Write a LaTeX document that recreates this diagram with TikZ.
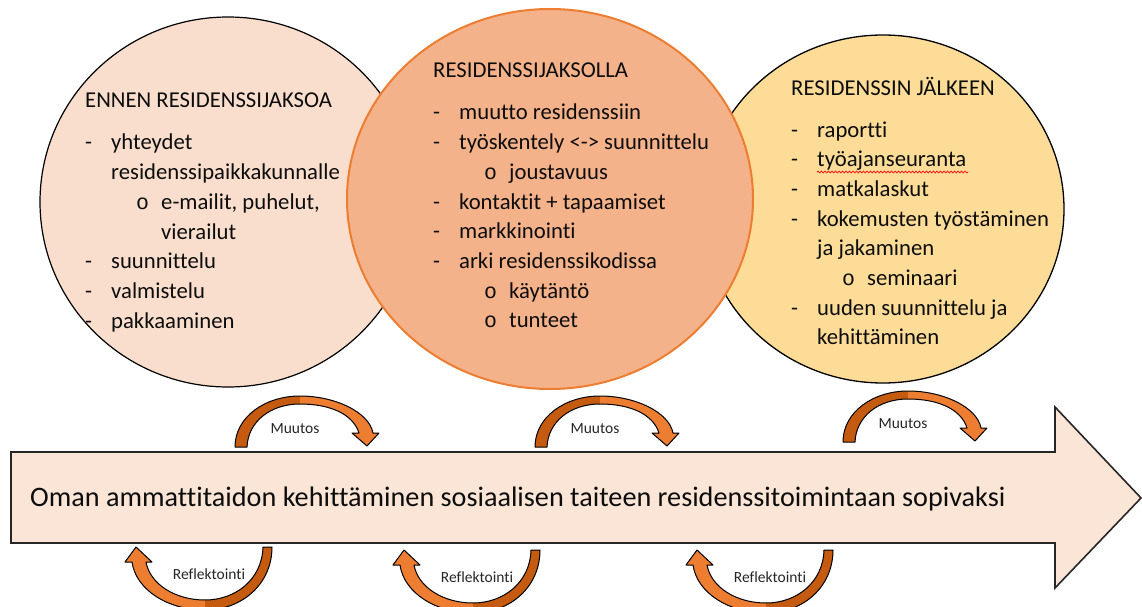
\documentclass[tikz,border=0pt]{standalone}
\usepackage{fontspec}
\setmainfont{Carlito}[Ligatures={TeX,NoCommon}]
\newfontfamily\bulletfont{Liberation Mono}
\usetikzlibrary{shapes.geometric,decorations.pathmorphing}
\definecolor{cOne}{RGB}{250,222,205}
\definecolor{cTwo}{RGB}{244,178,138}
\definecolor{cThree}{RGB}{252,220,150}
\definecolor{orBorder}{RGB}{237,125,49}
\definecolor{arrDark}{RGB}{197,90,17}
\definecolor{arrLight}{RGB}{237,125,49}
\definecolor{bigFill}{RGB}{251,229,214}
\definecolor{txt}{RGB}{13,13,13}
\newcommand\Ldash{\makebox[26pt][l]{-}}
\newcommand\Lcont{\hspace*{26pt}}
\newcommand\Lsub{\hspace*{51pt}\makebox[25pt][l]{\bulletfont\fontsize{21.5}{21.5}\selectfont o}}
\newcommand\Lsubcont{\hspace*{76pt}}
\newcommand\ctext[1]{\vtop{\hsize=340pt\parindent=0pt\parskip=0pt\baselineskip=29.7pt\lineskiplimit=-20pt\raggedright #1}}
\tikzset{
  phase/.style={ellipse, inner sep=0pt},
  phasetext/.style={anchor=base west, inner sep=0pt, text=txt, font=\fontsize{22.7}{29.7}\selectfont},
  bigarrow/.style={fill=bigFill, draw=black!85, line width=1.6pt, line join=miter},
  outl/.style={draw=black, line width=1pt, line join=round},
  lbl/.style={inner sep=0pt, text=black!85, font=\fontsize{15.5}{18}\selectfont},
  muutos/.pic={
    \fill[arrDark] (0,0) .. controls (0,-30) and (30,-51) .. (65,-51) -- (65,-43) .. controls (35,-43) and (13,-25) .. (12,0) -- cycle;
    \fill[arrLight] (65,-51) .. controls (100,-51) and (134,-35) .. (138,-14) -- (144,-14) -- (132,-1) -- (117,-14) -- (124,-14) .. controls (118,-33) and (95,-43) .. (65,-43) -- cycle;
    \draw[outl] (0,0) .. controls (0,-30) and (30,-51) .. (65,-51) .. controls (100,-51) and (134,-35) .. (138,-14) -- (144,-14) -- (132,-1) -- (117,-14) -- (124,-14) .. controls (118,-33) and (95,-43) .. (65,-43) .. controls (35,-43) and (13,-25) .. (12,0) -- cycle;
    \node[lbl] (-lbl) at (60,-18) {Muutos};
  },
  reflekt/.pic={
    \fill[arrDark] (0,0) .. controls (0,37) and (-30,63) .. (-67,63) -- (-67,53) .. controls (-37,53) and (-10,33) .. (-9,0) -- cycle;
    \fill[arrLight] (-67,63) .. controls (-104,63) and (-136,43) .. (-140,15) -- (-147,15) -- (-136,0) -- (-120,15) -- (-126,15) .. controls (-122,37) and (-97,53) .. (-67,53) -- cycle;
    \draw[outl] (0,0) .. controls (0,37) and (-30,63) .. (-67,63) .. controls (-104,63) and (-136,43) .. (-140,15) -- (-147,15) -- (-136,0) -- (-120,15) -- (-126,15) .. controls (-122,37) and (-97,53) .. (-67,53) .. controls (-37,53) and (-10,33) .. (-9,0) -- cycle;
    \node[lbl] (-lbl) at (-63,27) {Reflektointi};
  }
}
\begin{document}
\begin{tikzpicture}[x=1pt,y=-1pt]
\clip (0,0) rectangle (1142,607);
\fill[white] (0,0) rectangle (1142,607);
% circles
\node[phase, fill=cOne, draw=black, line width=1.2pt, minimum width=376pt, minimum height=370pt] (c1) at (228,202) {};
\node[phase, fill=cThree, draw=black, line width=1.3pt, minimum width=362pt, minimum height=348pt] (c3) at (883,209) {};
\node[phase, fill=cTwo, draw=orBorder, line width=2pt, minimum width=406pt, minimum height=380pt] (c2) at (550,199) {};
% circle texts
\node[phasetext] (t1) at (85,108) {\ctext{ENNEN RESIDENSSIJAKSOA\\[12.3pt]
\Ldash yhteydet\\
\Lcont residenssipaikkakunnalle\\
\Lsub e-mailit, puhelut,\\
\Lsubcont vierailut\\
\Ldash suunnittelu\\
\Ldash valmistelu\\
\Ldash pakkaaminen}};
\node[phasetext] (t2) at (433,78) {\ctext{RESIDENSSIJAKSOLLA\\[12.3pt]
\Ldash muutto residenssiin\\
\Ldash työskentely <-> suunnittelu\\
\Lsub joustavuus\\
\Ldash kontaktit + tapaamiset\\
\Ldash markkinointi\\
\Ldash arki residenssikodissa\\
\Lsub käytäntö\\
\Lsub tunteet}};
\node[phasetext] (t3) at (791,96) {\ctext{RESIDENSSIN JÄLKEEN\\[11.3pt]
\Ldash raportti\\
\Ldash työajanseuranta\\
\Ldash matkalaskut\\
\Ldash kokemusten työstäminen\\
\Lcont ja jakaminen\\
\Lsub seminaari\\
\Ldash uuden suunnittelu ja\\
\Lcont kehittäminen}};
\draw[red, line width=0.7pt, decorate, decoration={snake, amplitude=0.9pt, segment length=3.5pt}] (817,172) -- (968,172);
% big arrow
\draw[bigarrow] (11,452) -- (1055,452) -- (1055,407) -- (1141,498) -- (1055,588) -- (1055,543) -- (11,543) -- cycle;
\node[anchor=base west, inner sep=0pt, text=txt, font=\fontsize{28.2}{32}\selectfont] (main) at (30,506) {Oman ammattitaidon kehittäminen sosiaalisen taiteen residenssitoimintaan sopivaksi};
% curved arrows
\pic (m1) at (235,447) {muutos};
\pic (m2) at (535,447) {muutos};
\pic (m3) at (843,442) {muutos};
\pic (r1) at (272,547) {reflekt};
\pic (r2) at (540,550) {reflekt};
\pic (r3) at (833,550) {reflekt};
\end{tikzpicture}
\end{document}
